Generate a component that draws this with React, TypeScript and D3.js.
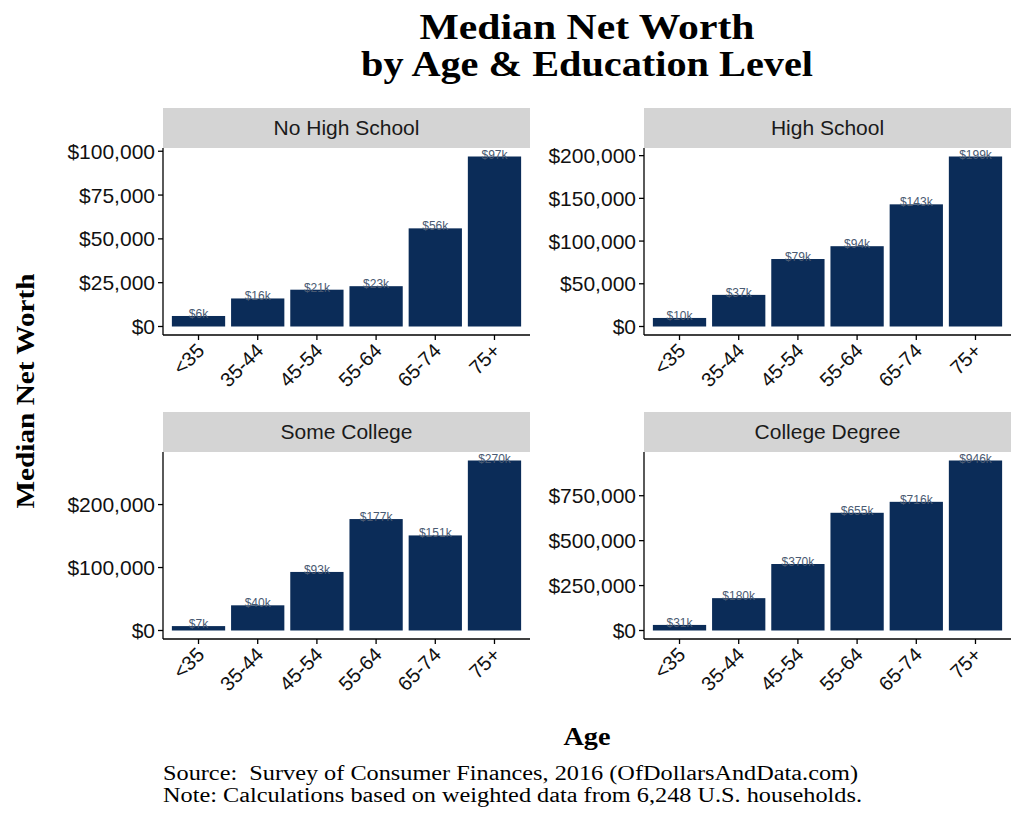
import React from 'react';
import { scaleBand, scaleLinear, format } from 'd3';

const ages = ['<35', '35-44', '45-54', '55-64', '65-74', '75+'];

const noHighSchool = [6, 16, 21, 23, 56, 97];
const highSchool = [10, 37, 79, 94, 143, 199];
const someCollege = [7, 40, 93, 177, 151, 270];
const collegeDegree = [31, 180, 370, 655, 716, 946];

const ticksNoHS = [0, 25000, 50000, 75000, 100000];
const ticksHS = [0, 50000, 100000, 150000, 200000];
const ticksSC = [0, 100000, 200000];
const ticksCD = [0, 250000, 500000, 750000];

const panels = [
  { title: 'No High School', values: noHighSchool, ticks: ticksNoHS, col: 0, row: 0 },
  { title: 'High School', values: highSchool, ticks: ticksHS, col: 1, row: 0 },
  { title: 'Some College', values: someCollege, ticks: ticksSC, col: 0, row: 1 },
  { title: 'College Degree', values: collegeDegree, ticks: ticksCD, col: 1, row: 1 },
];

const W = 1024;
const H = 819;
const colX = [163, 644];
const panelW = 367;
const stripTop = [108, 412];
const stripH = 40;
const plotH = 187;

const barColor = '#0b2c58';
const labelColor = '#4a5a72';
const sans = '"Liberation Sans", Arial, sans-serif';
const serif = '"Liberation Serif", "Times New Roman", serif';
const dollars = format('$,');

function Panel({ p }: { p: typeof panels[number] }) {
  const x0 = colX[p.col];
  const top = stripTop[p.row] + stripH;
  const bottom = top + plotH;
  const vals = p.values.map(v => v * 1000);
  const max = Math.max(...vals);

  const x = scaleBand<string>()
    .domain(ages)
    .range([x0, x0 + panelW])
    .paddingInner(0.1)
    .paddingOuter(0.15);
  const y = scaleLinear()
    .domain([-0.05 * max, 1.05 * max])
    .range([bottom, top]);

  return (
    <g>
      <rect x={x0} y={stripTop[p.row]} width={panelW} height={stripH} fill="#d4d4d4" />
      <text
        x={x0 + panelW / 2}
        y={stripTop[p.row] + stripH / 2 + 7}
        textAnchor="middle"
        fontFamily={sans}
        fontSize={21}
        fill="#1a1a1a"
      >
        {p.title}
      </text>
      {vals.map((v, i) => (
        <rect
          key={ages[i]}
          x={x(ages[i])}
          y={y(v)}
          width={x.bandwidth()}
          height={y(0) - y(v)}
          fill={barColor}
        />
      ))}
      {vals.map((v, i) => (
        <text
          key={'l' + ages[i]}
          x={(x(ages[i]) as number) + x.bandwidth() / 2}
          y={y(v) + 2}
          textAnchor="middle"
          fontFamily={sans}
          fontSize={12}
          fill={labelColor}
        >
          {'$' + p.values[i] + 'k'}
        </text>
      ))}
      <line x1={x0} x2={x0} y1={top} y2={bottom} stroke="#000" strokeWidth={1.3} />
      <line x1={x0} x2={x0 + panelW} y1={bottom} y2={bottom} stroke="#000" strokeWidth={1.3} />
      {p.ticks.map(t => (
        <g key={t}>
          <line x1={x0 - 5} x2={x0} y1={y(t)} y2={y(t)} stroke="#000" strokeWidth={1.3} />
          <text
            x={x0 - 8}
            y={y(t) + 7.5}
            textAnchor="end"
            fontFamily={sans}
            fontSize={21}
            fill="#111"
          >
            {dollars(t)}
          </text>
        </g>
      ))}
      {ages.map(a => {
        const cx = (x(a) as number) + x.bandwidth() / 2;
        return (
          <g key={a}>
            <line x1={cx} x2={cx} y1={bottom} y2={bottom + 5} stroke="#000" strokeWidth={1.3} />
            <text
              transform={`translate(${cx + 7},${bottom + 17}) rotate(-45)`}
              textAnchor="end"
              fontFamily={sans}
              fontSize={20}
              fill="#111"
            >
              {a}
            </text>
          </g>
        );
      })}
    </g>
  );
}

export default function App() {
  return (
    <svg
      width={W}
      height={H}
      viewBox={`0 0 ${W} ${H}`}
      style={{ position: 'absolute', left: 0, top: 0, background: '#fff' }}
    >
      <rect width={W} height={H} fill="#fff" />
      <text x={587} y={39} textAnchor="middle" fontFamily={serif} fontWeight="bold" fontSize={36} textLength={335} lengthAdjust="spacingAndGlyphs">
        Median Net Worth
      </text>
      <text x={587} y={76} textAnchor="middle" fontFamily={serif} fontWeight="bold" fontSize={36} textLength={452} lengthAdjust="spacingAndGlyphs">
        by Age &amp; Education Level
      </text>
      {panels.map(p => (
        <Panel key={p.title} p={p} />
      ))}
      <text
        transform="translate(34,391) rotate(-90)"
        textAnchor="middle"
        fontFamily={serif}
        fontWeight="bold"
        fontSize={25}
        textLength={235}
        lengthAdjust="spacingAndGlyphs"
      >
        Median Net Worth
      </text>
      <text x={587} y={745} textAnchor="middle" fontFamily={serif} fontWeight="bold" fontSize={25} textLength={47} lengthAdjust="spacingAndGlyphs">
        Age
      </text>
      <text x={163} y={780} fontFamily={serif} fontSize={20} textLength={695} lengthAdjust="spacingAndGlyphs">
        {'Source:\u00a0 Survey of Consumer Finances, 2016 (OfDollarsAndData.com)'}
      </text>
      <text x={163} y={802} fontFamily={serif} fontSize={20} textLength={699} lengthAdjust="spacingAndGlyphs">
        Note: Calculations based on weighted data from 6,248 U.S. households.
      </text>
    </svg>
  );
}
